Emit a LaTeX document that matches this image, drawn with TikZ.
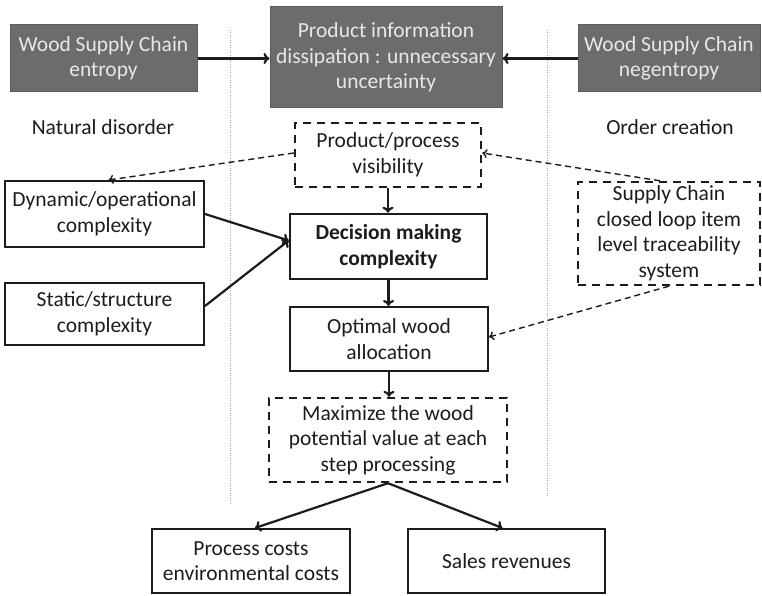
\documentclass[tikz,border=0pt]{standalone}
\usepackage{fontspec}
\setmainfont{Carlito}
\usetikzlibrary{arrows.meta}
\definecolor{boxgray}{RGB}{108,108,108}
\definecolor{boxtext}{RGB}{232,232,232}
\definecolor{ink}{RGB}{28,28,28}
\tikzset{
  every node/.style={font=\fontsize{21.5}{25.5}\selectfont, align=center, inner sep=0pt, text=ink},
  graybox/.style={draw=boxgray!85!black, fill=boxgray, text=boxtext, line width=1pt},
  plainbox/.style={draw=ink, line width=2pt},
  dashbox/.style={draw=ink, line width=2.4pt, dash pattern=on 8pt off 6pt},
  flow/.style={draw=ink, -{To[length=6pt,width=11pt]}, line width=2.2pt},
  hint/.style={draw=ink, -{To[length=5pt,width=9pt]}, line width=1.4pt, dash pattern=on 6pt off 4pt},
  divider/.style={draw=gray!70, line width=0.9pt, dash pattern=on 1pt off 1.5pt}
}
\begin{document}
\begin{tikzpicture}[x=1pt,y=-1pt]
  \useasboundingbox (0,0) rectangle (762,596);
  \draw[divider] (230,30) -- (230,503);
  \draw[divider] (547,30) -- (547,497);

  \node (lsc) [graybox, minimum width=187pt, minimum height=67pt] at (103.5,58.5) {Wood Supply Chain\\entropy};
  \node (pid) [graybox, minimum width=232pt, minimum height=101pt] at (386,57.5) {Product information\\dissipation : unnecessary\\uncertainty};
  \node (rsc) [graybox, minimum width=182pt, minimum height=67pt] at (669,58.5) {Wood Supply Chain\\negentropy};
  \node (nd) at (103,127) {Natural disorder};
  \node (oc) at (670,127) {Order creation};

  \node (ppv) [dashbox, minimum width=186pt, minimum height=64pt] at (388,155) {Product/process\\visibility};
  \node (doc) [plainbox, minimum width=199pt, minimum height=66pt] at (104.5,214) {Dynamic/operational\\complexity};
  \node (ssc) [plainbox, minimum width=199pt, minimum height=62pt] at (104.5,314) {Static/structure\\complexity};
  \node (dmc) [plainbox, line width=2.6pt, minimum width=197pt, minimum height=65pt, font=\fontsize{21.5}{25.5}\selectfont\bfseries] at (388.5,246.5) {Decision making\\complexity};
  \node (scl) [dashbox, minimum width=182pt, minimum height=103pt] at (669,233.5) {Supply Chain\\closed loop item\\level traceability\\system};
  \node (owa) [plainbox, minimum width=198pt, minimum height=64pt] at (389,339) {Optimal wood\\allocation};
  \node (mwp) [dashbox, minimum width=238pt, minimum height=84pt] at (388,440) {Maximize the wood\\potential value at each\\step processing};
  \node (pcc) [plainbox, minimum width=198pt, minimum height=64pt] at (251,561) {Process costs\\environmental costs};
  \node (srv) [plainbox, minimum width=197pt, minimum height=64pt] at (506.5,561) {Sales revenues};

  \draw[flow] (lsc.east) -- (lsc.east -| pid.west);
  \draw[flow] (rsc.west) -- (rsc.west -| pid.east);
  \path ([yshift=6pt]dmc.west) coordinate (dmin);
  \draw[flow] (doc.east) -- (dmin);
  \draw[flow] ([yshift=8pt]ssc.east) -- (dmin);
  \draw[flow] (ppv.south) -- (ppv.south |- dmc.north);
  \draw[flow] (dmc.south) -- (dmc.south |- owa.north);
  \draw[flow] (owa.south) -- (owa.south |- mwp.north);
  \draw[flow] (mwp.south) -- ([xshift=4pt]pcc.north);
  \draw[flow] (mwp.south) -- ([xshift=-4pt]srv.north);

  \draw[hint] ([yshift=2pt]ppv.west) -- ([xshift=4pt]doc.north);
  \draw[hint] ([xshift=-9pt]scl.north) -- ([yshift=2pt]ppv.east);
  \draw[hint] (scl.south) -- ([yshift=2pt]owa.east);
\end{tikzpicture}
\end{document}
